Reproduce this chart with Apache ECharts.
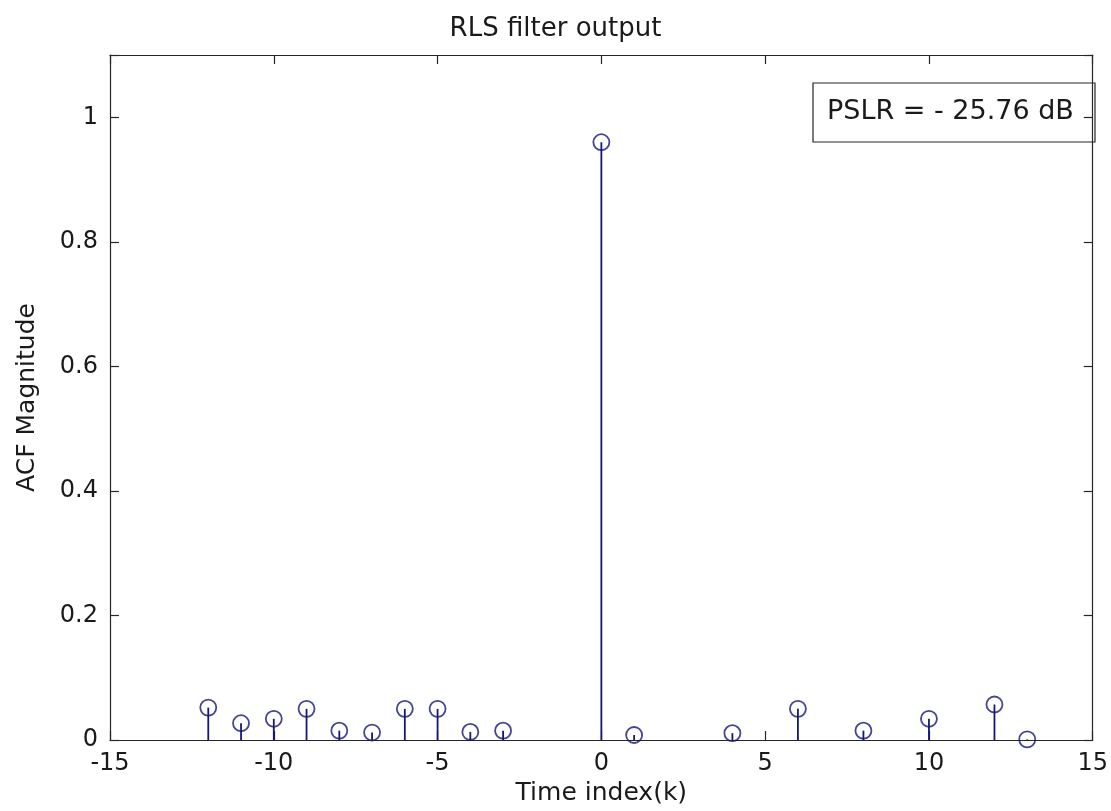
<!DOCTYPE html>
<html>
<head>
<meta charset="utf-8">
<script src="https://cdn.jsdelivr.net/npm/echarts@6/dist/echarts.min.js"></script>
<style>
  html, body { margin: 0; padding: 0; background: #ffffff; }
  #chart { width: 1111px; height: 811px; }
</style>
</head>
<body>
<div id="chart"></div>
<script>
// ---- data ----
const timeIndex = [-12, -11, -10, -9, -8, -7, -6, -5, -4, -3, 0, 1, 4, 6, 8, 10, 12, 13];
const acfMagnitude = [0.052, 0.027, 0.034, 0.050, 0.015, 0.012, 0.050, 0.050, 0.013, 0.015,
                      0.960, 0.008, 0.011, 0.050, 0.015, 0.034, 0.057, 0.001];
const xTicks = [-15, -10, -5, 0, 5, 10, 15];
const yTicks = [0, 0.2, 0.4, 0.6, 0.8, 1];
const titleText = 'RLS filter output';
const xLabel = 'Time index(k)';
const yLabel = 'ACF Magnitude';
const annotation = 'PSLR = - 25.76 dB';

const points = timeIndex.map((x, i) => [x, acfMagnitude[i]]);
const FONT = 'DejaVu Sans';
const AXIS = '#262626';
const STEM = '#16167a';

const chart = echarts.init(document.getElementById('chart'), null, { renderer: 'canvas' });

function yFmt(v) {
  const r = Math.round(v * 10) / 10;
  return yTicks.some(t => Math.abs(t - v) < 1e-9) ? String(r) : '';
}

const commonAxis = {
  axisLine: { show: true, onZero: false, lineStyle: { color: AXIS, width: 1.2 } },
  axisTick: { show: true, inside: true, length: 9, lineStyle: { color: AXIS, width: 1.2 } },
  splitLine: { show: false }
};

chart.setOption({
  animation: false,
  backgroundColor: '#ffffff',
  title: {
    text: titleText,
    left: 'center',
    top: 11,
    textStyle: { fontFamily: FONT, fontSize: 26, fontWeight: 'normal', color: '#1a1a1a' }
  },
  grid: { left: 110, right: 17, top: 55, bottom: 71, containLabel: false },
  xAxis: [
    Object.assign({}, commonAxis, {
      type: 'value', min: -15, max: 15, interval: 5, position: 'bottom',
      name: xLabel, nameLocation: 'middle', nameGap: 37,
      nameTextStyle: { fontFamily: FONT, fontSize: 25, color: '#1a1a1a' },
      axisLabel: { fontFamily: FONT, fontSize: 24, color: '#1a1a1a', margin: 12 }
    }),
    Object.assign({}, commonAxis, {
      type: 'value', min: -15, max: 15, interval: 5, position: 'top',
      axisLabel: { show: false }
    })
  ],
  yAxis: [
    Object.assign({}, commonAxis, {
      type: 'value', min: 0, max: 1.1, interval: 0.2, position: 'left',
      name: yLabel, nameLocation: 'middle', nameGap: 70,
      nameTextStyle: { fontFamily: FONT, fontSize: 25, color: '#1a1a1a' },
      axisLabel: { fontFamily: FONT, fontSize: 24, color: '#1a1a1a', margin: 12, formatter: yFmt }
    }),
    Object.assign({}, commonAxis, {
      type: 'value', min: 0, max: 1.1, interval: 0.2, position: 'right',
      axisLabel: { show: false }
    })
  ],
  series: [
    {
      type: 'custom',
      xAxisIndex: 0, yAxisIndex: 0,
      data: points,
      renderItem: function (params, api) {
        const p0 = api.coord([api.value(0), 0]);
        const p1 = api.coord([api.value(0), api.value(1)]);
        return {
          type: 'line',
          shape: { x1: p0[0], y1: p0[1], x2: p1[0], y2: p1[1] },
          style: { stroke: STEM, lineWidth: 1.8 }
        };
      },
      z: 2
    },
    {
      type: 'scatter',
      xAxisIndex: 0, yAxisIndex: 0,
      data: points,
      symbol: 'circle',
      symbolSize: 16,
      itemStyle: { color: 'rgba(255,255,255,0)', borderColor: STEM, borderWidth: 1.8 },
      z: 3
    }
  ],
  graphic: [
    {
      type: 'rect',
      shape: { x: 813, y: 83, width: 282, height: 59 },
      style: { fill: 'rgba(255,255,255,0)', stroke: AXIS, lineWidth: 1.2 },
      z: 10
    },
    {
      type: 'text',
      x: 827, y: 112,
      style: { text: annotation, fontFamily: FONT, fontSize: 27, fill: '#1a1a1a', textVerticalAlign: 'middle', verticalAlign: 'middle' },
      z: 11
    }
  ]
});
</script>
</body>
</html>
